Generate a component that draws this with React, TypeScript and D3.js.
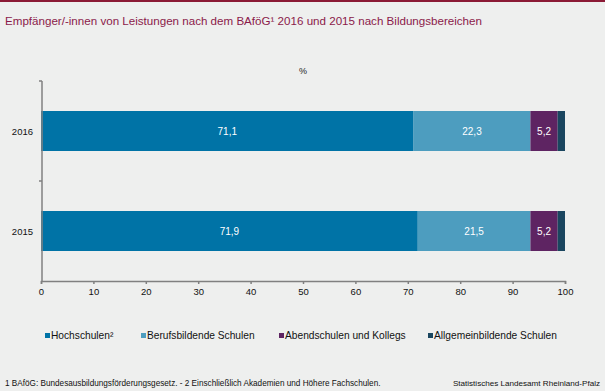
import React, { useEffect, useRef } from "react"
import * as d3 from "d3"

const years = ["2016", "2015"]
const seriesNames = ["Hochschulen²", "Berufsbildende Schulen", "Abendschulen und Kollegs", "Allgemeinbildende Schulen"]
const hochschulen = [71.1, 71.9]
const berufsbildende = [22.3, 21.5]
const abendschulen = [5.2, 5.2]
const allgemeinbildende = [1.4, 1.4]
const colors = ["#0073a6", "#4d9dbf", "#5e2462", "#1a465f"]
const xTicks = [0, 10, 20, 30, 40, 50, 60, 70, 80, 90, 100]

const W = 605
const H = 391

const App = () => {
    const ref = useRef<SVGSVGElement>(null)

    useEffect(() => {
        const svg = d3.select(ref.current)
        svg.selectAll("*").remove()

        const font = "'Liberation Sans', Arial, sans-serif"
        const margin = { top: 81, right: 40, bottom: 110, left: 42 }

        svg.append("rect").attr("width", W).attr("height", H).attr("fill", "#eeefee")
        svg.append("rect").attr("width", W).attr("height", 2).attr("fill", "#8b1a35")

        svg.append("text")
            .attr("x", 5).attr("y", 25)
            .attr("font-family", font).attr("font-size", 11.6)
            .attr("fill", "#8b1a4a")
            .text("Empfänger/-innen von Leistungen nach dem BAföG¹ 2016 und 2015  nach Bildungsbereichen")

        const data = years.map((y, i) => ({
            year: y,
            values: [hochschulen[i], berufsbildende[i], abendschulen[i], allgemeinbildende[i]]
        }))

        const x = d3.scaleLinear().domain([0, 100]).range([margin.left - 1, 565])
        const y = d3.scaleBand().domain(years)
            .range([margin.top, H - margin.bottom])
            .paddingInner(0.6).paddingOuter(0.3)

        svg.append("text")
            .attr("x", x(50)).attr("y", 74)
            .attr("text-anchor", "middle")
            .attr("font-family", font).attr("font-size", 9)
            .attr("fill", "#222")
            .text("%")

        data.forEach(d => {
            let acc = 0
            d.values.forEach((v, k) => {
                const x0 = acc
                acc += v
                svg.append("rect")
                    .attr("x", x(x0)).attr("y", y(d.year)!)
                    .attr("width", x(acc) - x(x0)).attr("height", y.bandwidth())
                    .attr("fill", colors[k])
                if (v >= 5) {
                    svg.append("text")
                        .attr("x", (x(x0) + x(acc)) / 2)
                        .attr("y", y(d.year)! + y.bandwidth() / 2 + 3.5)
                        .attr("text-anchor", "middle")
                        .attr("font-family", font).attr("font-size", 10)
                        .attr("fill", "#fff")
                        .text(String(v).replace(".", ","))
                }
            })
        })

        // x axis
        const xAxis = svg.append("g")
            .attr("transform", `translate(0,${H - margin.bottom})`)
            .call(d3.axisBottom(x).tickValues(xTicks).tickSize(3).tickSizeOuter(3).tickPadding(4))
        xAxis.selectAll("path, line").attr("stroke", "#808080").attr("stroke-width", 1.5)
        xAxis.selectAll("text").attr("font-family", font).attr("font-size", 9.5).attr("fill", "#111")

        // y axis
        const yAxisG = svg.append("g").attr("transform", `translate(${margin.left},0)`)
        yAxisG.append("line")
            .attr("x1", 0).attr("x2", 0)
            .attr("y1", margin.top).attr("y2", H - margin.bottom)
            .attr("stroke", "#808080").attr("stroke-width", 1.5)
        const bounds = [margin.top, (margin.top + H - margin.bottom) / 2]
        bounds.forEach(b => {
            yAxisG.append("line")
                .attr("x1", -3).attr("x2", 0).attr("y1", b).attr("y2", b)
                .attr("stroke", "#808080").attr("stroke-width", 1.5)
        })
        years.forEach(yr => {
            yAxisG.append("text")
                .attr("x", -9).attr("y", y(yr)! + y.bandwidth() / 2 + 3.5)
                .attr("text-anchor", "end")
                .attr("font-family", font).attr("font-size", 9.5)
                .attr("fill", "#111")
                .text(yr)
        })

        // legend
        const legendX = [45, 141, 279, 428]
        const lg = svg.append("g").attr("transform", "translate(0,337)")
        seriesNames.forEach((n, k) => {
            lg.append("rect").attr("x", legendX[k]).attr("y", -4).attr("width", 5).attr("height", 5).attr("fill", colors[k])
            lg.append("text")
                .attr("x", legendX[k] + 6).attr("y", 1.5)
                .attr("font-family", font).attr("font-size", 10.2)
                .attr("fill", "#111")
                .text(n)
        })

        svg.append("text")
            .attr("x", 5).attr("y", 386)
            .attr("font-family", font).attr("font-size", 8.2)
            .attr("fill", "#111")
            .text("1 BAföG: Bundesausbildungsförderungsgesetz. - 2 Einschließlich Akademien und Höhere Fachschulen.")
        svg.append("text")
            .attr("x", 600).attr("y", 386)
            .attr("text-anchor", "end")
            .attr("font-family", font).attr("font-size", 8.1)
            .attr("fill", "#111")
            .text("Statistisches Landesamt Rheinland-Pfalz")
    }, [])

    return <svg ref={ref} width={W} height={H} style={{ display: "block", position: "absolute", left: 0, top: 0 }} />
}

export default App
